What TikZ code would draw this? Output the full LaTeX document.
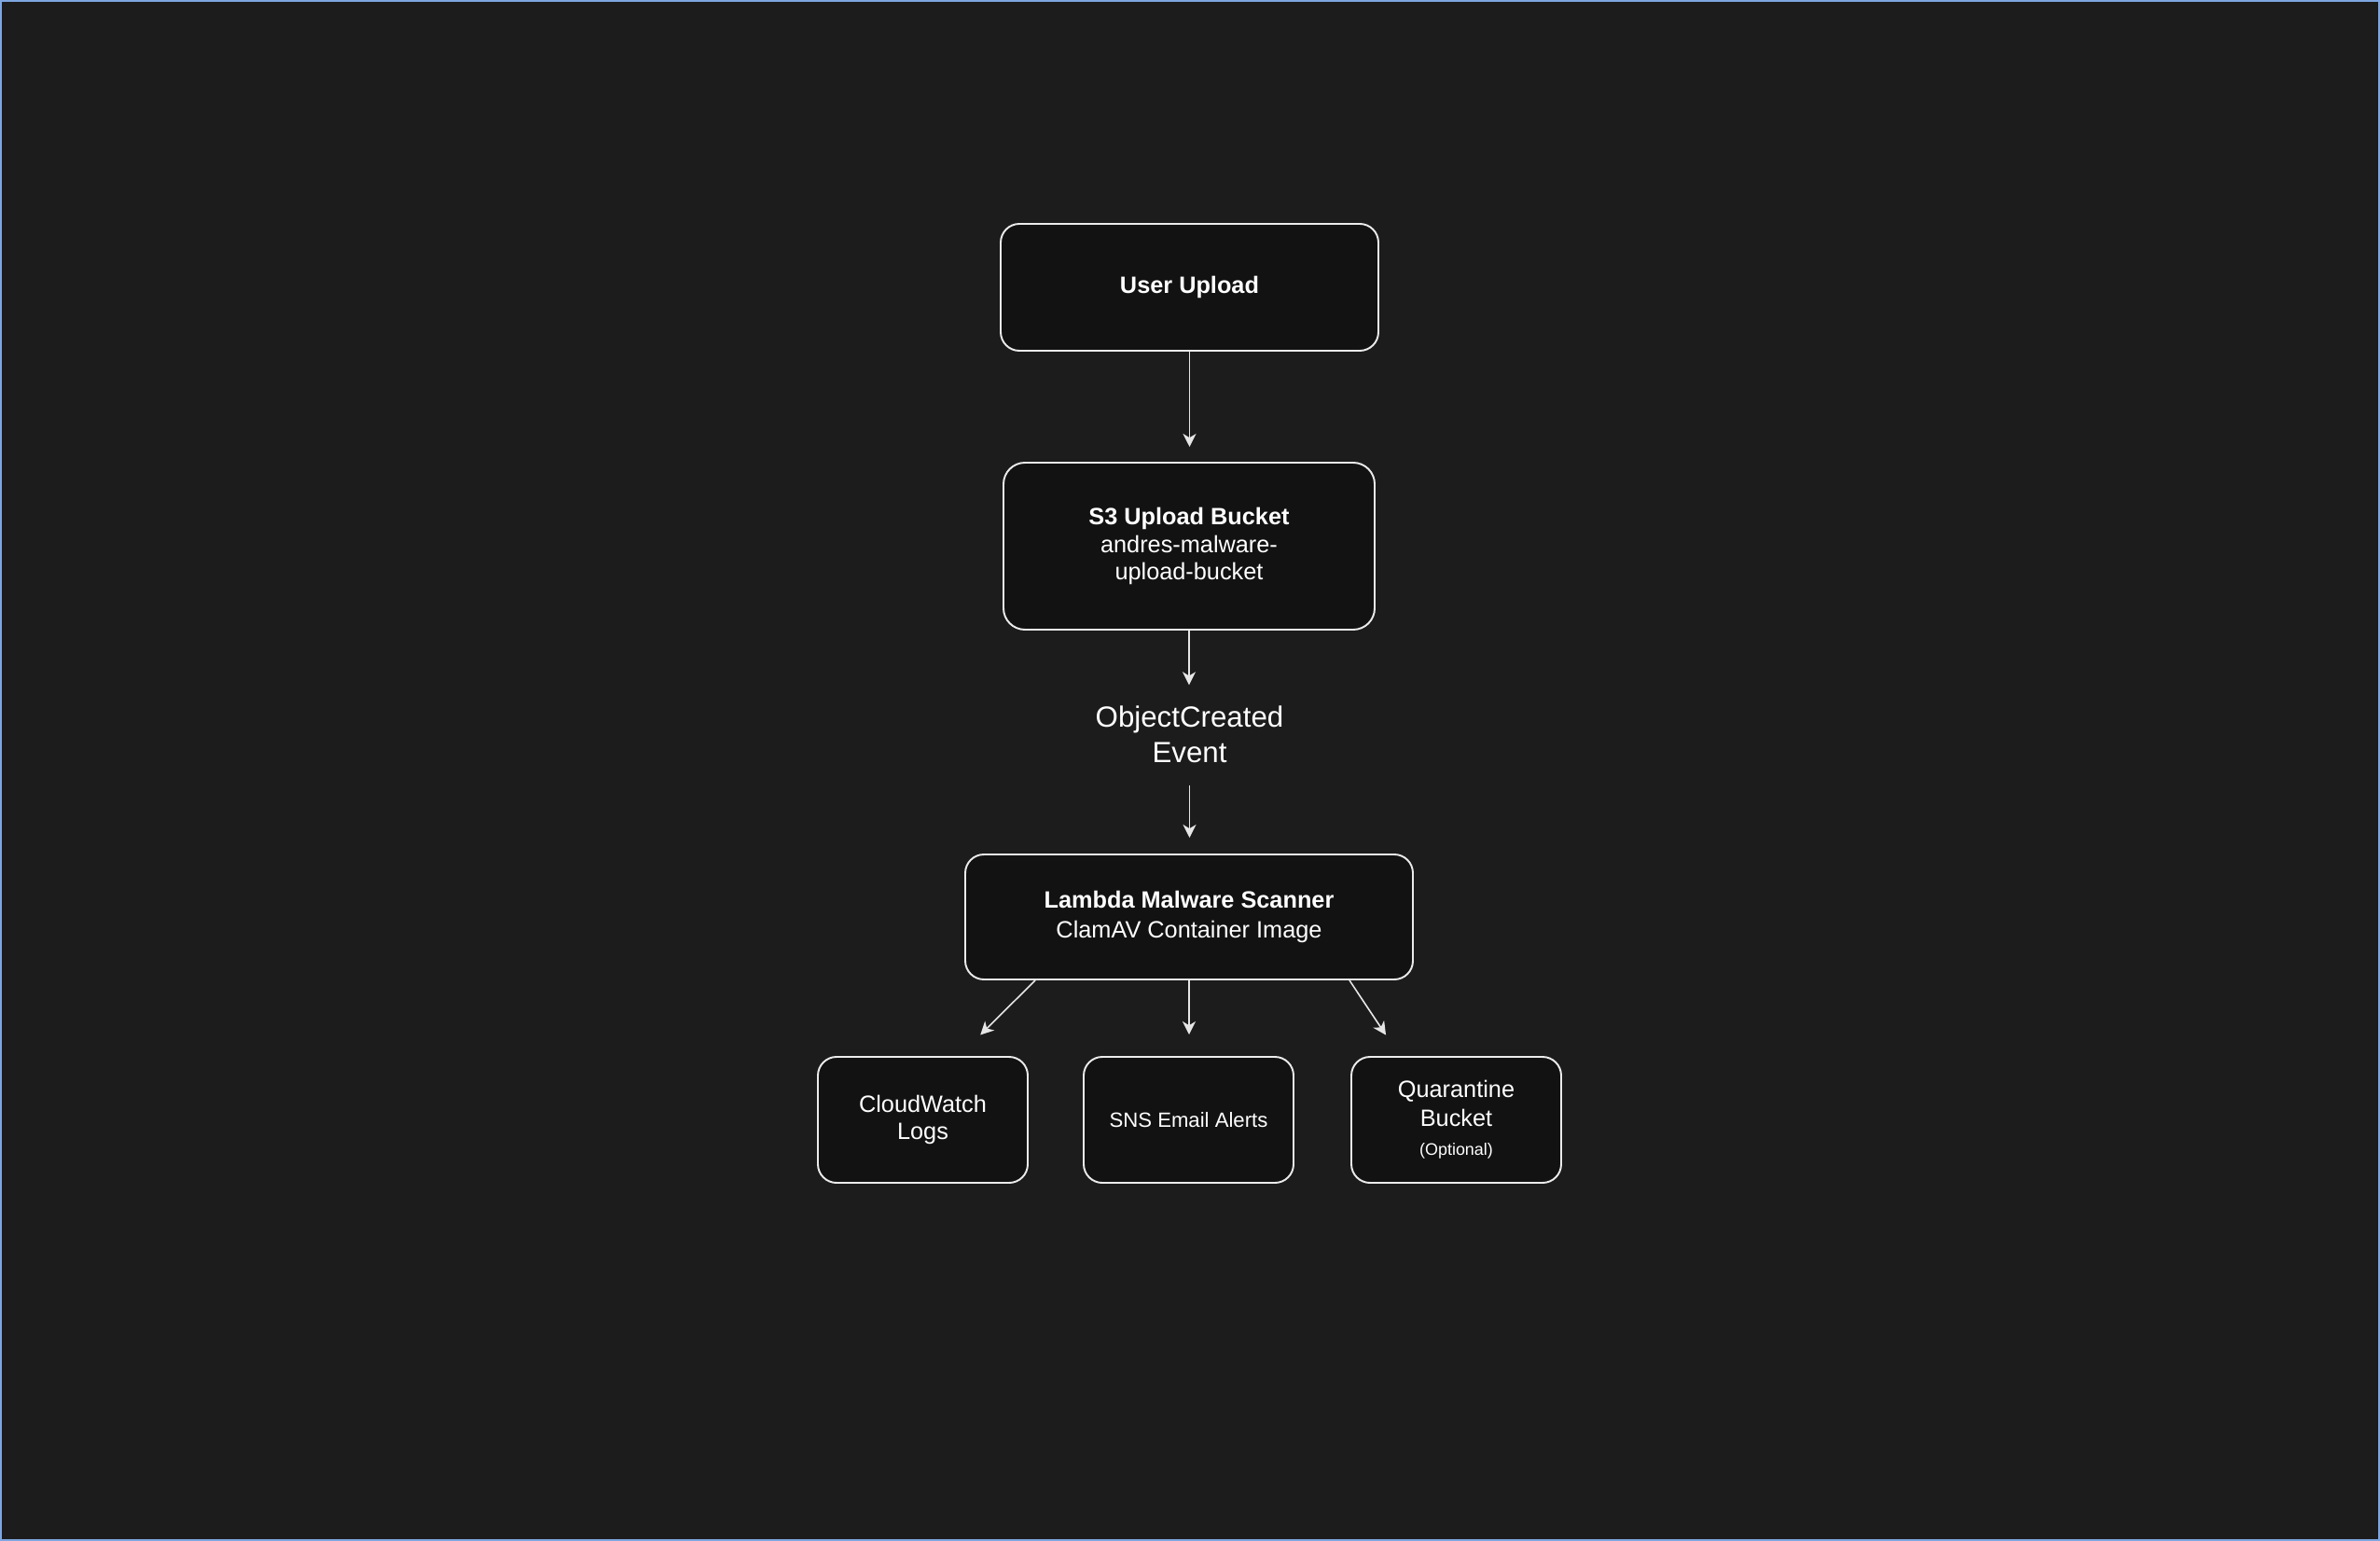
\documentclass[tikz,border=0pt]{standalone}
\usepackage{fontspec}
\setmainfont{Liberation Sans}
\usepackage{tikz}
\usetikzlibrary{arrows.meta,positioning}
\definecolor{bgdark}{RGB}{28,28,28}
\definecolor{boxfill}{RGB}{18,18,18}
\definecolor{boxline}{RGB}{235,235,235}
\definecolor{arrowline}{RGB}{230,230,230}
\definecolor{frameblue}{RGB}{126,166,224}

\begin{document}
\begin{tikzpicture}[
    box/.style={draw=boxline, fill=boxfill, rounded corners=0.2cm, line width=0.55pt, text=white, align=center, inner sep=0pt, font=\fontsize{7.2}{8.5}\selectfont},
    label/.style={text=white, align=center, inner sep=0pt, font=\fontsize{8.9}{10.8}\selectfont},
    arrow/.style={-{Stealth[length=4pt, width=4pt, inset=1.2pt]}, draw=arrowline, line width=0.45pt}
]
    \useasboundingbox (0,0) rectangle (25.52,-16.52);
    \fill[bgdark] (0,0) rectangle (25.52,-16.52);
    \draw[frameblue, line width=0.02cm] (0.01,-0.01) rectangle (25.51,-16.51);

    \node[box, minimum width=4.05cm, minimum height=1.36cm] (upload) at (12.755,-3.08) {\bfseries User Upload};
    \node[box, minimum width=3.98cm, minimum height=1.79cm, rounded corners=0.23cm] (bucket) at (12.75,-5.855) {{\bfseries S3 Upload Bucket}\\andres-malware-\\upload-bucket};
    \node[label] (event) at (12.755,-7.875) {ObjectCreated\\Event};
    \node[box, minimum width=4.8cm, minimum height=1.34cm, font=\fontsize{7.2}{9.1}\selectfont] (scanner) at (12.75,-9.83) {{\bfseries Lambda Malware Scanner}\\ClamAV Container Image};
    \node[box, minimum width=2.25cm, minimum height=1.35cm] (logs) at (9.895,-12.005) {CloudWatch\\Logs};
    \node[box, minimum width=2.25cm, minimum height=1.35cm, font=\fontsize{6.3}{7.5}\selectfont] (alerts) at (12.745,-12.005) {SNS Email Alerts};
    \node[box, minimum width=2.25cm, minimum height=1.35cm, font=\fontsize{7.2}{8.8}\selectfont] (quarantine) at (15.615,-12.005) {Quarantine\\Bucket\\{\fontsize{5.1}{6}\selectfont (Optional)}};

    \draw[arrow, shorten >=0.16cm] (upload.south) -- (upload.south |- bucket.north);
    \draw[arrow, shorten >=0.22cm] (bucket.south) -- (bucket.south |- event.north);
    \draw[arrow, shorten <=0.23cm, shorten >=0.17cm] (event.south) -- (event.south |- scanner.north);
    \draw[arrow, shorten >=0.32cm] ([xshift=-1.65cm]scanner.south) -- ([xshift=0.39cm]logs.north);
    \draw[arrow, shorten >=0.23cm] (scanner.south) -- (scanner.south |- alerts.north);
    \draw[arrow, shorten >=0.27cm] ([xshift=1.72cm]scanner.south) -- ([xshift=-0.605cm]quarantine.north);
\end{tikzpicture}
\end{document}
